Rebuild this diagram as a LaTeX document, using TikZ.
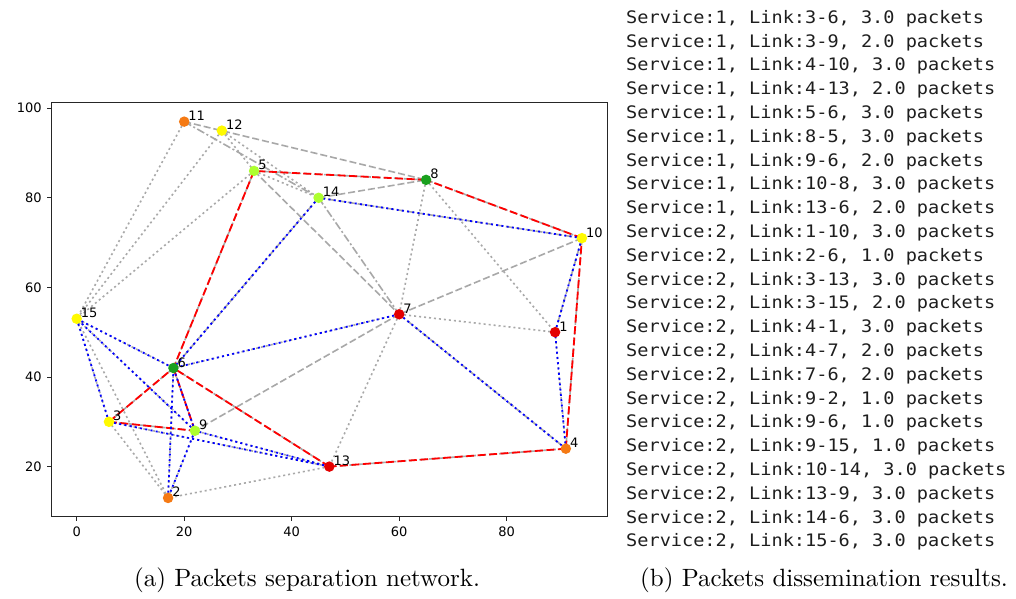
\documentclass[tikz,border=0pt]{standalone}
\usepackage{fontspec}
\newfontfamily\plotfont{DejaVu Sans}
\newfontfamily\logfont[FakeStretch=1.08]{DejaVu Sans Mono}
\newfontfamily\capfont{lmroman10-regular}[Extension=.otf]
\definecolor{edgegray}{RGB}{168,168,168}
\definecolor{svcred}{RGB}{255,0,0}
\definecolor{svcblue}{RGB}{0,0,255}
\definecolor{hostorange}{RGB}{245,122,20}
\definecolor{hostyellow}{RGB}{255,250,0}
\definecolor{hostlime}{RGB}{173,255,47}
\definecolor{hostgreen}{RGB}{26,160,30}
\definecolor{hostred}{RGB}{228,0,0}
\definecolor{logtext}{RGB}{30,30,30}
\begin{document}
\begin{tikzpicture}[x=1pt,y=1pt,
  gedge/.style={draw=edgegray, line width=1.6pt},
  gdot/.style={gedge, dash pattern=on 2pt off 3pt},
  gdash/.style={gedge, dash pattern=on 7pt off 3pt},
  gdashdot/.style={gedge, dash pattern=on 8pt off 2.5pt on 2pt off 2.5pt},
  svcone/.style={draw=svcred, line width=1.8pt, dash pattern=on 8pt off 3.5pt},
  svctwo/.style={draw=svcblue, line width=1.8pt, dash pattern=on 2pt off 3.3pt},
  host/.style={circle, inner sep=0pt, minimum size=10.5pt},
  hostlabel/.style={anchor=base west, inner sep=0pt, text=black,
    font=\plotfont\fontsize{13}{13}\selectfont},
  ticklabel/.style={inner sep=0pt, text=black,
    font=\plotfont\fontsize{13}{13}\selectfont},
  logline/.style={anchor=base west, inner sep=0pt, text=logtext,
    font=\logfont\fontsize{17.2}{20}\selectfont},
  caption/.style={anchor=base, inner sep=0pt,
    font=\capfont\fontsize{25}{28}\selectfont}]
\fill[white] (0,0) rectangle (1016,598);
\useasboundingbox (0,0) rectangle (1016,598);

% ---------- network plot, in data units ----------
\begin{scope}[shift={(76.7,41.8)}, x=5.375pt, y=4.48pt]
  % axes frame and ticks
  \draw[line width=1pt, black!85] (-4.7,8.8) rectangle (98.7,101.2);
  \foreach \t [count=\i] in {0,20,40,60,80} {
    \draw[line width=1pt, black!85] (\t,8.8) -- ++(0,-4.5pt);
    \node[ticklabel, anchor=north] (xt\i) at ([yshift=-10pt]\t,8.8) {\t};
  }
  \foreach \t [count=\i] in {20,40,60,80,100} {
    \draw[line width=1pt, black!85] (-4.7,\t) -- ++(-4.5pt,0);
    \node[ticklabel, anchor=east] (yt\i) at ([xshift=-9.5pt]-4.7,\t) {\t};
  }

  % host positions
  \coordinate (p1) at (89,50);
  \coordinate (p2) at (17,13);
  \coordinate (p3) at (6,30);
  \coordinate (p4) at (91,24);
  \coordinate (p5) at (33,86);
  \coordinate (p6) at (18,42);
  \coordinate (p7) at (60,54);
  \coordinate (p8) at (65,84);
  \coordinate (p9) at (22,28);
  \coordinate (p10) at (94,71);
  \coordinate (p11) at (20,97);
  \coordinate (p12) at (27,95);
  \coordinate (p13) at (47,20);
  \coordinate (p14) at (45,80);
  \coordinate (p15) at (0,53);

  % underlying links
  \foreach \a/\b in {11/15,12/15,5/15,12/5,5/14,12/14,8/7,8/1,7/1,7/13,13/2,
                     2/15,2/3,3/15,6/15,9/15,2/6,2/9,3/13,13/9,1/4,6/7}
    \draw[gdot] (p\a) -- (p\b);
  \foreach \a/\b in {11/8,14/8,5/7,10/7,7/9,5/8,8/10,10/4,4/13,13/6,6/5,
                     6/3,3/9,9/6,1/10,7/4,10/14,14/6}
    \draw[gdash] (p\a) -- (p\b);
  \foreach \a/\b in {11/14,14/7}
    \draw[gdashdot] (p\a) -- (p\b);

  % service 1 links
  \foreach \a/\b in {3/6,3/9,4/10,4/13,5/6,8/5,9/6,10/8,13/6}
    \draw[svcone] (p\a) -- (p\b);
  % service 2 links
  \foreach \a/\b in {1/10,2/6,3/13,3/15,4/1,4/7,7/6,9/2,9/6,9/15,10/14,13/9,14/6,15/6}
    \draw[svctwo] (p\a) -- (p\b);

  % hosts
  \foreach \h/\c in {1/hostred,2/hostorange,3/hostyellow,4/hostorange,5/hostlime,
                     6/hostgreen,7/hostred,8/hostgreen,9/hostlime,10/hostyellow,
                     11/hostorange,12/hostyellow,13/hostred,14/hostlime,15/hostyellow} {
    \node[host, fill=\c] (n\h) at (p\h) {};
    \node[hostlabel] (l\h) at ([xshift=4pt,yshift=1pt]p\h) {\h};
  }
\end{scope}

% ---------- dissemination log ----------
\foreach \txt [count=\k from 0] in {
  {Service:1, Link:3-6, 3.0 packets},
  {Service:1, Link:3-9, 2.0 packets},
  {Service:1, Link:4-10, 3.0 packets},
  {Service:1, Link:4-13, 2.0 packets},
  {Service:1, Link:5-6, 3.0 packets},
  {Service:1, Link:8-5, 3.0 packets},
  {Service:1, Link:9-6, 2.0 packets},
  {Service:1, Link:10-8, 3.0 packets},
  {Service:1, Link:13-6, 2.0 packets},
  {Service:2, Link:1-10, 3.0 packets},
  {Service:2, Link:2-6, 1.0 packets},
  {Service:2, Link:3-13, 3.0 packets},
  {Service:2, Link:3-15, 2.0 packets},
  {Service:2, Link:4-1, 3.0 packets},
  {Service:2, Link:4-7, 2.0 packets},
  {Service:2, Link:7-6, 2.0 packets},
  {Service:2, Link:9-2, 1.0 packets},
  {Service:2, Link:9-6, 1.0 packets},
  {Service:2, Link:9-15, 1.0 packets},
  {Service:2, Link:10-14, 3.0 packets},
  {Service:2, Link:13-9, 3.0 packets},
  {Service:2, Link:14-6, 3.0 packets},
  {Service:2, Link:15-6, 3.0 packets}}
  \node[logline] (log\k) at (626, 598-23.3-23.8*\k) {\txt};

% ---------- captions ----------
\node[caption] (capa) at (307,12) {(a) Packets separation network.};
\node[caption] (capb) at (824,12) {(b) Packets dissemination results.};
\end{tikzpicture}
\end{document}
